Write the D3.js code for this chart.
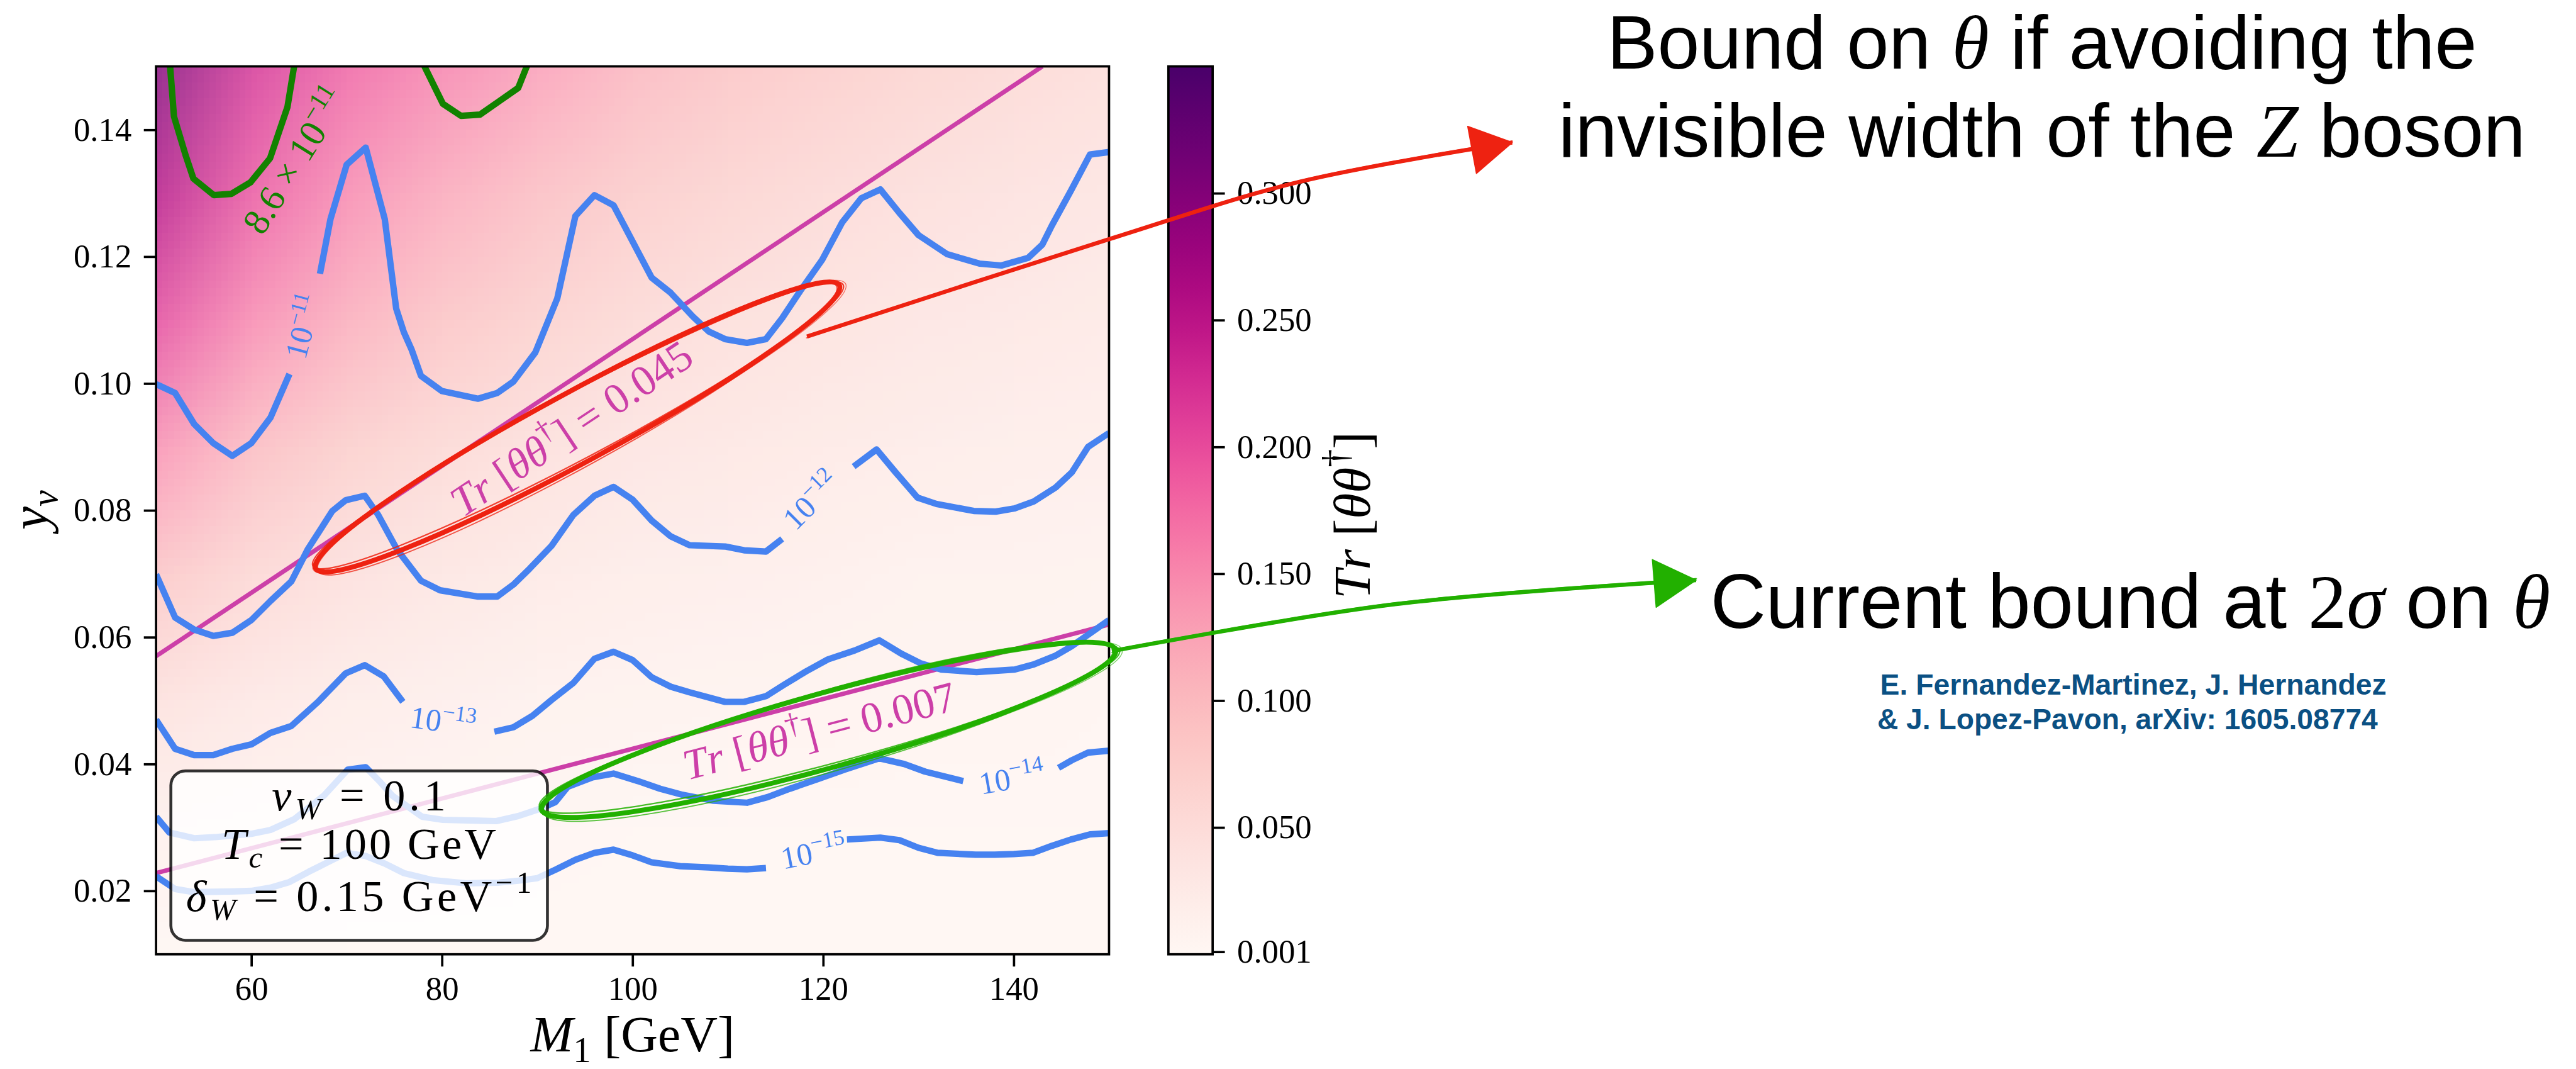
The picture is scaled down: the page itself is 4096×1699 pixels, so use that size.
<!DOCTYPE html>
<html>
<head>
<meta charset="utf-8">
<script src="https://cdn.jsdelivr.net/npm/d3@7"></script>
<style>
  html, body { margin: 0; padding: 0; background: #fff; }
  svg { display: block; }
  text { white-space: pre; }
</style>
</head>
<body>
<svg id="chart"></svg>
<script>
// ticks
const xTicks = [60, 80, 100, 120, 140];
const yTicks = [0.02, 0.04, 0.06, 0.08, 0.10, 0.12, 0.14];
const cbarTicks = [0.001, 0.05, 0.10, 0.15, 0.20, 0.25, 0.30];

// background Tr[theta theta^dagger]
const gridM = [50, 60, 70, 80, 90, 100, 110, 120, 130, 140, 150];
const gridY = [0.15, 0.13, 0.11, 0.09, 0.07, 0.05, 0.03, 0.01];
const gridTr = [
    [0.300, 0.225, 0.185, 0.158, 0.134, 0.109, 0.092, 0.079, 0.068, 0.060, 0.052],
    [0.255, 0.195, 0.153, 0.125, 0.100, 0.082, 0.069, 0.059, 0.051, 0.044, 0.039],
    [0.205, 0.153, 0.120, 0.092, 0.074, 0.060, 0.050, 0.043, 0.037, 0.033, 0.029],
    [0.146, 0.103, 0.077, 0.060, 0.048, 0.039, 0.034, 0.029, 0.025, 0.021, 0.020],
    [0.088, 0.062, 0.047, 0.036, 0.029, 0.023, 0.020, 0.017, 0.014, 0.013, 0.012],
    [0.045, 0.031, 0.023, 0.018, 0.014, 0.012, 0.010, 0.009, 0.008, 0.007, 0.005],
    [0.016, 0.012, 0.009, 0.007, 0.005, 0.004, 0.004, 0.003, 0.003, 0.003, 0.003],
    [0.001, 0.001, 0.001, 0.001, 0.001, 0.001, 0.001, 0.001, 0.001, 0.001, 0.001]
];

// asymmetry contours [M1, y_nu]; null = gap left for the label
const contour11 = [
    [50, 0.0999], [52, 0.0985], [54, 0.0936], [56, 0.0906], [58, 0.0886], [60, 0.0906], [62, 0.0946], [64, 0.1015], null,
    [67.2, 0.1173], [68.3, 0.1259], [70, 0.1345], [72, 0.1372], [74, 0.1259], [75.2, 0.1118], [76, 0.1081], [76.8, 0.1054],
    [77.8, 0.1012], [80, 0.0988], [83.8, 0.0976], [85.8, 0.0985], [87.5, 0.1003], [89.8, 0.1049], [92.1, 0.1134],
    [94, 0.1264], [96, 0.1297], [98, 0.1281], [100, 0.1224], [102, 0.1167], [104, 0.1143], [106.3, 0.1106], [108, 0.1082],
    [109.7, 0.1070], [112, 0.1064], [114, 0.1070], [115.7, 0.1103], [117.6, 0.1146], [119.9, 0.1195], [122, 0.1254],
    [124, 0.1292], [126, 0.1306], [128, 0.1269], [130, 0.1234], [133, 0.1204], [136.4, 0.1189], [138.7, 0.1186],
    [141.5, 0.1198], [143, 0.1219], [144, 0.1249], [146, 0.1304], [148, 0.1361], [150, 0.1365]
];
const contour12 = [
    [50, 0.0699], [52, 0.0631], [54, 0.0612], [56, 0.0602], [58, 0.0607], [60, 0.0627], [62, 0.0657], [64.2, 0.0688],
    [65.9, 0.0738], [68.5, 0.0799], [69.9, 0.0816], [71.9, 0.0823], [73.3, 0.0793], [75.3, 0.0738], [77.8, 0.0689],
    [79.8, 0.0674], [83.8, 0.0664], [85.8, 0.0664], [87.5, 0.0683], [89.2, 0.0708], [91.5, 0.0744], [93.8, 0.0793],
    [96, 0.0823], [98, 0.0837], [100, 0.0817], [102, 0.0784], [104, 0.0759], [106, 0.0745], [109.7, 0.0743],
    [111.7, 0.0737], [114, 0.0735], [115.7, 0.0755], null,
    [123.2, 0.0869], [125.6, 0.0896], [127.6, 0.0860], [129.9, 0.0820], [131.9, 0.0810], [135.8, 0.0799], [138.1, 0.0798],
    [140.1, 0.0803], [142.1, 0.0814], [144.4, 0.0836], [146.1, 0.0860], [147.8, 0.0900], [150, 0.0922]
];
const contour13 = [
    [50, 0.0470], [52, 0.0424], [54, 0.0414], [56, 0.0414], [58, 0.0424], [60, 0.0431], [62, 0.0449], [64.2, 0.0460],
    [67, 0.0498], [69.9, 0.0543], [71.9, 0.0556], [73.9, 0.0538], [75.9, 0.0498], null,
    [85.5, 0.0451], [87.5, 0.0458], [89.5, 0.0476], [91.5, 0.0501], [93.8, 0.0528], [96, 0.0566], [98, 0.0577],
    [100, 0.0564], [102, 0.0537], [104, 0.0522], [106, 0.0513], [109.7, 0.0498], [111.7, 0.0498], [114, 0.0507],
    [115.9, 0.0525], [118.2, 0.0546], [120.5, 0.0565], [123.3, 0.0579], [125.9, 0.0595], [128.2, 0.0574],
    [130.2, 0.0559], [132.4, 0.0549], [136.1, 0.0545], [140.1, 0.0549], [142.1, 0.0557], [144.4, 0.0571],
    [146.1, 0.0586], [148.1, 0.0607], [150, 0.0627]
];
const contour14 = [
    [50, 0.0317], [51.4, 0.0292], [54, 0.0283], [56.4, 0.0285], [60, 0.0290], [62, 0.0296], [64.5, 0.0313],
    [67.6, 0.0350], [70.1, 0.0391], [72, 0.0395], [73.5, 0.0372], [74.8, 0.0350], [77.9, 0.0317], [80.1, 0.0312],
    [85.7, 0.0310], [88, 0.0318], [90.4, 0.0330], [91.9, 0.0340], [93.2, 0.0364], [95.8, 0.0379], [98, 0.0385],
    [100.6, 0.0373], [102.9, 0.0361], [105.1, 0.0352], [108.5, 0.0342], [112, 0.0339], [114.2, 0.0348],
    [116.5, 0.0361], [119.4, 0.0376], [122.2, 0.0391], [125.9, 0.0409], [128.5, 0.0400], [130.7, 0.0388],
    [134.7, 0.0373], null,
    [144.7, 0.0394], [146.1, 0.0406], [147.8, 0.0418], [150, 0.0421]
];
const contour15 = [
    [50, 0.0223], [52, 0.0203], [54, 0.0198], [58, 0.0199], [60, 0.0200], [62, 0.0205], [64, 0.0214], [66, 0.0230],
    [68, 0.0245], [70, 0.0260], [72, 0.0255], [74, 0.0243], [76, 0.0228], [79, 0.0217], [82.5, 0.0212], [86, 0.0213],
    [88, 0.0216], [90, 0.0220], [92, 0.0234], [94, 0.0249], [96, 0.0260], [98, 0.0265], [100, 0.0256], [102, 0.0245],
    [105, 0.0239], [108, 0.0237], [110, 0.0235], [112, 0.0234], [114, 0.0236], null,
    [122.5, 0.0281], [126, 0.0284], [128, 0.0280], [130, 0.0268], [132, 0.0260], [136, 0.0257], [138, 0.0257],
    [140, 0.0258], [142, 0.0260], [144, 0.0271], [146, 0.0281], [148, 0.0289], [150, 0.0291]
];
const contourObserved = [
    [51.45, 0.1515], [51.48, 0.1499], [51.88, 0.1421], [53.1, 0.1360], [53.92, 0.1323], [56.06, 0.1297], [57.9, 0.1299],
    [59.9, 0.1317], [61.96, 0.1355], [63.79, 0.1436], [64.65, 0.1515], null,
    [78.1, 0.1515], [78.2, 0.1499], [80.1, 0.1441], [82, 0.1422], [84, 0.1424], [86.1, 0.1446], [88, 0.1466], [89.3, 0.1515]
];

// Tr[theta theta^dagger] iso-lines
const trLine045 = [[50, 0.0570], [143, 0.1500]];
const trLine007 = [[50, 0.0228], [150, 0.0620]];

const contourLabels = [
    {base: '10', exp: '−11', M: 65.5, y: 0.1090, angle: -75},
    {base: '10', exp: '−12', M: 118.8, y: 0.0815, angle: -45},
    {base: '10', exp: '−13', M: 80.1, y: 0.0467, angle: 8},
    {base: '10', exp: '−14', M: 139.8, y: 0.0377, angle: -10},
    {base: '10', exp: '−15', M: 119.0, y: 0.0260, angle: -11}
];

// hand-drawn marks: ellipse end points and arrow paths (data coordinates)
const redEllipse = [[66.76, 0.0708], [121.7, 0.1155]];
const greenEllipse = [[90.46, 0.0328], [150.7, 0.0580]];
const redArrow = [[118.3, 0.1074], [149.9, 0.1227], [170.0, 0.1318], [192.3, 0.1380]];
const greenArrow = [[150.3, 0.0578], [180.0, 0.0652], [211.6, 0.0690]];

const cfg = {
    width: 4425,
    height: 1836,
    plot: {left: 267.5, right: 1905, top: 114, bottom: 1639},
    cbar: {left: 2007, right: 2083},
    serif: '"Liberation Serif", "DejaVu Serif", serif',
    sans: '"Liberation Sans", Arial, sans-serif',
    blue: '#4682f0',
    darkGreen: '#128200',
    magenta: '#cc3fa8',
    red: '#ee2211',
    green: '#22b000',
    navy: '#0b5083'
};

const svg = d3.select('#chart')
    .attr('width', 4096)
    .attr('height', 1699)
    .attr('viewBox', `0 0 ${cfg.width} ${cfg.height}`)
    ;

const x = d3.scaleLinear().domain([50, 150]).range([cfg.plot.left, cfg.plot.right]);
const y = d3.scaleLinear().domain([0.01, 0.15]).range([cfg.plot.bottom, cfg.plot.top]);
const cb = d3.scaleLinear().domain([0, 0.35]).range([cfg.plot.bottom, cfg.plot.top]);
const trColor = d3.scaleSequential(d3.interpolateRdPu).domain([0, 0.35]);

const defs = svg.append('defs');
defs.append('clipPath').attr('id', 'plot-clip')
    .append('rect')
    .attr('x', cfg.plot.left).attr('y', cfg.plot.top)
    .attr('width', cfg.plot.right - cfg.plot.left)
    .attr('height', cfg.plot.bottom - cfg.plot.top)
    ;

// writes a small math string: parts are {t, i (italic), sub, sup, f (font)}
function mathText(text, parts, size) {
    let shift = 0;
    parts.forEach(p => {
        const level = p.sub ? 0.2 * size : (p.sup ? -0.42 * size : 0);
        const ts = text.append('tspan')
            .attr('dy', level - shift)
            .style('font-size', ((p.sub || p.sup) ? 0.7 * size : size) + 'px')
            .style('font-style', p.i ? 'italic' : 'normal')
            .text(p.t);
        if (p.f) ts.style('font-family', p.f);
        shift = level;
    });
    return text;
}

function rotatedLabel(g, px, py, angle, size, color, parts, baseline) {
    const t = g.append('g')
        .attr('transform', `translate(${px},${py}) rotate(${angle})`)
        .append('text')
        .attr('y', baseline === undefined ? 0.33 * size : baseline)
        .attr('text-anchor', 'middle')
        .attr('font-family', cfg.serif)
        .attr('fill', color)
        ;
    return mathText(t, parts, size);
}

// ---- heat map ----
const plot = svg.append('g').attr('clip-path', 'url(#plot-clip)');
(function drawHeatmap() {
    const nx = gridM.length, ny = gridY.length;
    const canvas = document.createElement('canvas');
    canvas.width = nx;
    canvas.height = ny;
    const ctx = canvas.getContext('2d');
    const img = ctx.createImageData(nx, ny);
    gridTr.forEach((row, j) => row.forEach((v, i) => {
        const c = d3.rgb(trColor(v));
        const k = 4 * (j * nx + i);
        img.data[k] = c.r; img.data[k + 1] = c.g; img.data[k + 2] = c.b; img.data[k + 3] = 255;
    }));
    ctx.putImageData(img, 0, 0);
    const dM = gridM[1] - gridM[0], dY = gridY[0] - gridY[1];
    plot.append('image')
        .attr('href', canvas.toDataURL())
        .attr('x', x(gridM[0] - dM / 2))
        .attr('y', y(gridY[0] + dY / 2))
        .attr('width', x(gridM[nx - 1] + dM / 2) - x(gridM[0] - dM / 2))
        .attr('height', y(gridY[ny - 1] - dY / 2) - y(gridY[0] + dY / 2))
        .attr('preserveAspectRatio', 'none')
        .attr('opacity', 0.8)
        ;
})();

const line = d3.line().defined(d => d !== null).x(d => x(d[0])).y(d => y(d[1]));

[trLine045, trLine007].forEach(d => {
    plot.append('path').attr('d', line(d))
        .attr('fill', 'none').attr('stroke', cfg.magenta).attr('stroke-width', 7.5);
});

[contour11, contour12, contour13, contour14, contour15].forEach(d => {
    plot.append('path').attr('d', line(d))
        .attr('fill', 'none').attr('stroke', cfg.blue).attr('stroke-width', 11)
        .attr('stroke-linejoin', 'round');
});
plot.append('path').attr('d', line(contourObserved))
    .attr('fill', 'none').attr('stroke', cfg.darkGreen).attr('stroke-width', 11)
    .attr('stroke-linejoin', 'round');

// contour labels
contourLabels.forEach(l => {
    rotatedLabel(svg, x(l.M), y(l.y), l.angle, 54, cfg.blue, [{t: l.base}, {t: l.exp, sup: 1}]);
});
rotatedLabel(svg, x(64.6), y(0.1351), -58, 64, cfg.darkGreen,
    [{t: '8.6 × 10'}, {t: '−11', sup: 1}]);

// Tr labels follow their lines
function lineAngle(d) {
    return Math.atan2(y(d[1][1]) - y(d[0][1]), x(d[1][0]) - x(d[0][0])) * 180 / Math.PI;
}
const trParts = v => [{t: 'T', i: 1}, {t: 'r', i: 1}, {t: ' ['}, {t: 'θθ', i: 1}, {t: '†', sup: 1}, {t: ']'}, {t: ' = ' + v}];
rotatedLabel(svg, x(93.6), y(0.0929), lineAngle(trLine045), 74, cfg.magenta, trParts('0.045'));
rotatedLabel(svg, x(119.6), y(0.0452), lineAngle(trLine007), 74, cfg.magenta, trParts('0.007'));

// ---- axes ----
function styleAxis(g) {
    g.select('.domain').remove();
    g.attr('font-family', cfg.serif).attr('font-size', 57);
    g.selectAll('.tick line').attr('stroke', '#000').attr('stroke-width', 4);
    g.selectAll('.tick text').attr('fill', '#000');
}
svg.append('g')
    .attr('transform', `translate(0,${cfg.plot.bottom})`)
    .call(d3.axisBottom(x).tickValues(xTicks).tickFormat(d3.format('d')).tickSize(21).tickPadding(17).tickSizeOuter(0))
    .call(styleAxis)
    ;
svg.append('g')
    .attr('transform', `translate(${cfg.plot.left},0)`)
    .call(d3.axisLeft(y).tickValues(yTicks).tickFormat(d3.format('.2f')).tickSize(21).tickPadding(21).tickSizeOuter(0))
    .call(styleAxis)
    ;
svg.append('rect')
    .attr('x', cfg.plot.left).attr('y', cfg.plot.top)
    .attr('width', cfg.plot.right - cfg.plot.left)
    .attr('height', cfg.plot.bottom - cfg.plot.top)
    .attr('fill', 'none').attr('stroke', '#000').attr('stroke-width', 4)
    ;

// axis titles
mathText(svg.append('text')
    .attr('x', (cfg.plot.left + cfg.plot.right) / 2).attr('y', 1806)
    .attr('text-anchor', 'middle').attr('font-family', cfg.serif),
    [{t: 'M', i: 1}, {t: '1', sub: 1}, {t: ' [GeV]'}], 88);
rotatedLabel(svg, 80, 876, -90, 90, '#000', [{t: 'y', i: 1}, {t: 'ν', i: 1, sub: 1}], 0);

// ---- colour bar ----
const grad = defs.append('linearGradient').attr('id', 'cbar-grad')
    .attr('x1', 0).attr('y1', 1).attr('x2', 0).attr('y2', 0);
d3.range(0, 1.0001, 0.05).forEach(t => {
    grad.append('stop').attr('offset', t).attr('stop-color', d3.interpolateRdPu(t));
});
svg.append('rect')
    .attr('x', cfg.cbar.left).attr('y', cfg.plot.top)
    .attr('width', cfg.cbar.right - cfg.cbar.left)
    .attr('height', cfg.plot.bottom - cfg.plot.top)
    .attr('fill', 'url(#cbar-grad)')
    .attr('stroke', '#000').attr('stroke-width', 4)
    ;
svg.append('g')
    .attr('transform', `translate(${cfg.cbar.right},0)`)
    .call(d3.axisRight(cb).tickValues(cbarTicks).tickFormat(d3.format('.3f')).tickSize(21).tickPadding(21).tickSizeOuter(0))
    .call(styleAxis)
    ;
rotatedLabel(svg, 2353, 885, -90, 90, '#000', trParts('').slice(0, 6), 0);

// ---- parameter box ----
svg.append('rect')
    .attr('x', 293).attr('y', 1324).attr('width', 647).attr('height', 291)
    .attr('rx', 25).attr('ry', 25)
    .attr('fill', '#fff').attr('fill-opacity', 0.8)
    .attr('stroke', '#000').attr('stroke-opacity', 0.8).attr('stroke-width', 5)
    ;
const boxLines = [
    {parts: [{t: 'v', i: 1}, {t: 'W', i: 1, sub: 1}, {t: ' = 0.1'}], base: 1392, len: 299},
    {parts: [{t: 'T', i: 1}, {t: 'c', i: 1, sub: 1}, {t: ' = 100 GeV'}], base: 1475, len: 472},
    {parts: [{t: 'δ', i: 1}, {t: 'W', i: 1, sub: 1}, {t: ' = 0.15 GeV'}, {t: '−1', sup: 1}], base: 1565, len: 594}
];
boxLines.forEach(l => {
    mathText(svg.append('text')
        .attr('x', 616).attr('y', l.base)
        .attr('text-anchor', 'middle').attr('font-family', cfg.serif)
        .attr('textLength', l.len).attr('lengthAdjust', 'spacing'),
        l.parts, 76);
});

// ---- hand-drawn annotations ----
const passes = [
    {dx: 0, dy: 0, sa: 1.000, sb: 1.00, da: 0.0, w: 8.5, o: 1},
    {dx: 2, dy: -2, sa: 1.008, sb: 0.93, da: 0.5, w: 2.5, o: 0.85},
    {dx: -2, dy: 2, sa: 0.994, sb: 1.08, da: -0.4, w: 2, o: 0.75},
    {dx: 3, dy: 1, sa: 1.015, sb: 1.03, da: 0.2, w: 1.5, o: 0.6}
];
function sketchEllipse(ends, b, color) {
    const x0 = x(ends[0][0]), y0 = y(ends[0][1]), x1 = x(ends[1][0]), y1 = y(ends[1][1]);
    const cx = (x0 + x1) / 2, cy = (y0 + y1) / 2;
    const a = Math.hypot(x1 - x0, y1 - y0) / 2;
    const ang = Math.atan2(y1 - y0, x1 - x0) * 180 / Math.PI;
    passes.forEach(p => {
        svg.append('ellipse')
            .attr('cx', cx + p.dx).attr('cy', cy + p.dy)
            .attr('rx', a * p.sa).attr('ry', b * p.sb)
            .attr('transform', `rotate(${ang + p.da} ${cx} ${cy})`)
            .attr('fill', 'none').attr('stroke', color)
            .attr('stroke-width', p.w).attr('opacity', p.o)
            ;
    });
}
function sketchArrow(pts, color, headLen, headHalf) {
    const arrowLine = d3.line().curve(d3.curveCatmullRom.alpha(0.5)).x(d => x(d[0])).y(d => y(d[1]));
    [[0, 0, 7, 1], [1.5, -2.5, 2, 0.8], [-1.5, 2.5, 1.5, 0.7]].forEach(([dx, dy, w, o]) => {
        svg.append('path').attr('d', arrowLine(pts))
            .attr('transform', `translate(${dx},${dy})`)
            .attr('fill', 'none').attr('stroke', color)
            .attr('stroke-width', w).attr('opacity', o)
            ;
    });
    const n = pts.length;
    const tx = x(pts[n - 1][0]), ty = y(pts[n - 1][1]);
    const px = x(pts[n - 2][0]), py = y(pts[n - 2][1]);
    const len = Math.hypot(tx - px, ty - py);
    const ux = (tx - px) / len, uy = (ty - py) / len;
    const bx = tx - headLen * ux, by = ty - headLen * uy;
    const head = [[tx, ty], [bx - headHalf * uy, by + headHalf * ux], [bx + headHalf * uy, by - headHalf * ux]];
    svg.append('path')
        .attr('d', d3.line()(head) + 'Z')
        .attr('fill', color).attr('stroke', color).attr('stroke-width', 2)
        .attr('stroke-linejoin', 'round')
        ;
}
sketchEllipse(redEllipse, 60, cfg.red);
sketchEllipse(greenEllipse, 64, cfg.green);
sketchArrow(redArrow, cfg.red, 70, 41);
sketchArrow(greenArrow, cfg.green, 72, 41);

// ---- side notes ----
function sideText(cx, base, size, parts, opts) {
    const t = svg.append('text')
        .attr('x', cx).attr('y', base)
        .attr('text-anchor', 'middle')
        .attr('font-family', cfg.sans)
        .attr('fill', (opts && opts.color) || '#000')
        ;
    if (opts && opts.bold) t.attr('font-weight', 'bold');
    if (opts && opts.len) t.attr('textLength', opts.len).attr('lengthAdjust', 'spacingAndGlyphs');
    return mathText(t, parts, size);
}
sideText(3508, 118, 130, [{t: 'Bound on '}, {t: 'θ', i: 1, f: cfg.serif}, {t: ' if avoiding the'}]);
sideText(3508, 269, 130, [{t: 'invisible width of the '}, {t: 'Z', i: 1, f: cfg.serif}, {t: ' boson'}]);
sideText(3660, 1078, 132, [{t: 'Current bound at '}, {t: '2', f: cfg.serif}, {t: 'σ', i: 1, f: cfg.serif},
    {t: ' on '}, {t: 'θ', i: 1, f: cfg.serif}]);
sideText(3665, 1193, 50, [{t: 'E. Fernandez-Martinez, J. Hernandez'}], {color: cfg.navy, bold: 1, len: 870});
sideText(3655, 1252, 50, [{t: '& J. Lopez-Pavon, arXiv: 1605.08774'}], {color: cfg.navy, bold: 1, len: 860});
</script>
</body>
</html>
